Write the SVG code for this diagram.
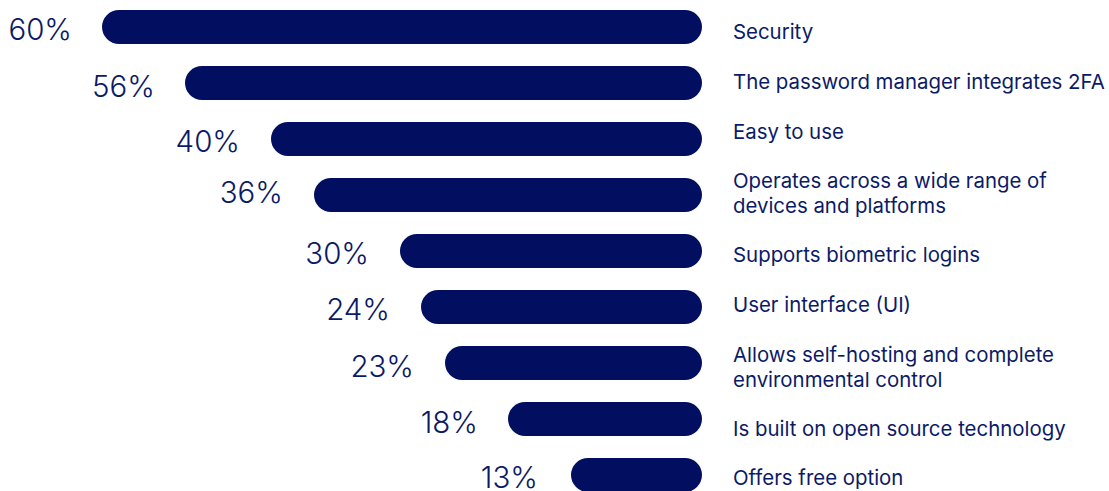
<svg xmlns="http://www.w3.org/2000/svg" width="1109" height="491" viewBox="0 0 1109 491">
<style>
.bar{fill:#020f60}
.pct{font-family:Inter,"Liberation Sans",sans-serif;font-size:29.5px;font-weight:300;fill:#0b1a66;text-anchor:end}
.lbl{font-family:Inter,"Liberation Sans",sans-serif;font-size:20.4px;font-weight:400;fill:#0b1a66}
</style>
<rect width="1109" height="491" fill="#ffffff"/>
<g id="row1"><rect class="bar" x="102" y="10" width="600" height="34" rx="17"/><text class="pct" x="72" y="40">60%</text><text class="lbl" x="733" y="39">Security</text></g>
<g id="row2"><rect class="bar" x="185" y="66" width="517" height="34" rx="17"/><text class="pct" x="155" y="97">56%</text><text class="lbl" x="733" y="89">The password manager integrates 2FA</text></g>
<g id="row3"><rect class="bar" x="271" y="122" width="431" height="34" rx="17"/><text class="pct" x="240" y="152">40%</text><text class="lbl" x="733" y="139">Easy to use</text></g>
<g id="row4"><rect class="bar" x="314" y="178" width="388" height="34" rx="17"/><text class="pct" x="283" y="203">36%</text><text class="lbl" x="733" y="188">Operates across a wide range of</text><text class="lbl" x="733" y="213">devices and platforms</text></g>
<g id="row5"><rect class="bar" x="400" y="234" width="302" height="34" rx="17"/><text class="pct" x="369" y="264">30%</text><text class="lbl" x="733" y="262">Supports biometric logins</text></g>
<g id="row6"><rect class="bar" x="421" y="290" width="281" height="34" rx="17"/><text class="pct" x="390" y="320">24%</text><text class="lbl" x="733" y="312">User interface (UI)</text></g>
<g id="row7"><rect class="bar" x="445" y="346" width="257" height="34" rx="17"/><text class="pct" x="414" y="377">23%</text><text class="lbl" x="733" y="362">Allows self-hosting and complete</text><text class="lbl" x="733" y="387">environmental control</text></g>
<g id="row8"><rect class="bar" x="508" y="402" width="194" height="34" rx="17"/><text class="pct" x="478" y="433">18%</text><text class="lbl" x="733" y="436">Is built on open source technology</text></g>
<g id="row9"><rect class="bar" x="571" y="458" width="131" height="34" rx="17"/><text class="pct" x="538" y="488">13%</text><text class="lbl" x="733" y="485">Offers free option</text></g>
</svg>
